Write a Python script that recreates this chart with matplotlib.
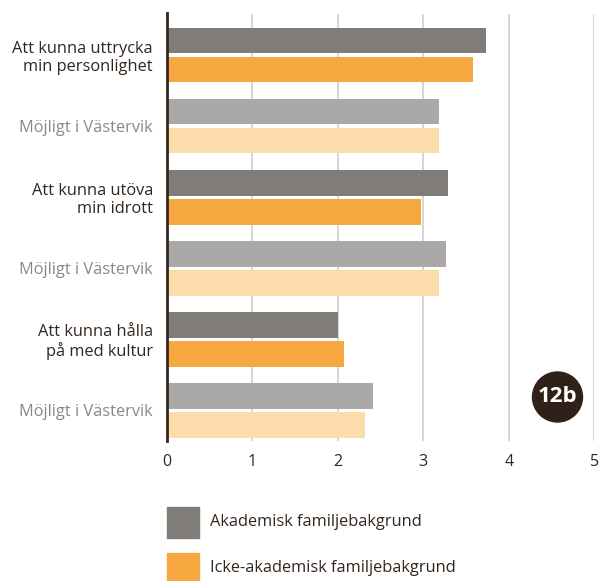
import matplotlib
matplotlib.use("Agg")
import matplotlib.pyplot as plt
from matplotlib.patches import Rectangle, Ellipse

plt.rcParams['font.family'] = ['Open Sans', 'DejaVu Sans']

categories = ["Att kunna uttrycka\nmin personlighet", "Möjligt i Västervik",
              "Att kunna utöva\nmin idrott", "Möjligt i Västervik",
              "Att kunna hålla\npå med kultur", "Möjligt i Västervik"]
akademisk = [3.73, 3.18, 3.29, 3.27, 2.0, 2.41]
icke_akademisk = [3.58, 3.18, 2.97, 3.18, 2.07, 2.32]
is_possible = [False, True, False, True, False, True]
xticks = [0, 1, 2, 3, 4, 5]
legend_labels = ["Akademisk familjebakgrund", "Icke-akademisk familjebakgrund"]
badge = "12b"

c_dark = "#807c78"
c_orange = "#f7a73f"
c_lgray = "#aaa9a7"
c_lorange = "#fddcab"
txt_dark = "#33261d"
txt_gray = "#8c8784"

W, H = 599, 581
fig = plt.figure(figsize=(W / 100, H / 100), dpi=100)
x0, x1 = 166.8, 594.3
ytop, ybot = 13, 441
ax = fig.add_axes([x0 / W, 1 - ybot / H, (x1 - x0) / W, (ybot - ytop) / H])

off = 0.204
h = 0.362
for i in range(len(categories)):
    c1 = c_lgray if is_possible[i] else c_dark
    c2 = c_lorange if is_possible[i] else c_orange
    ax.barh(i - off, akademisk[i], height=h, color=c1, zorder=3)
    ax.barh(i + off, icke_akademisk[i], height=h, color=c2, zorder=3)

ax.set_xlim(0, 5)
ax.set_ylim(5.43, -0.59)
for s in ["top", "right", "bottom"]:
    ax.spines[s].set_visible(False)
ax.spines["left"].set_color(txt_dark)
ax.spines["left"].set_linewidth(2)
ax.spines["left"].set_zorder(5)

ax.set_xticks(xticks)
ax.set_xticklabels([str(t) for t in xticks], fontsize=11.5, color=txt_dark)
ax.tick_params(axis="x", length=0, pad=9)
for t in xticks[1:]:
    ax.axvline(t, color="#d2d2d2", lw=1.3, zorder=1, ymin=0, ymax=0.995)

ax.set_yticks(range(len(categories)))
ax.set_yticklabels(categories, fontsize=11.8, linespacing=1.15)
for lbl, p in zip(ax.get_yticklabels(), is_possible):
    lbl.set_color(txt_gray if p else txt_dark)
ax.tick_params(axis="y", length=0, pad=10)

# badge
fig.patches.append(Ellipse((557.5 / W, 1 - 397 / H), 50 / W, 50 / H, transform=fig.transFigure,
                           color="#2f2117", zorder=10))
fig.text(557.5 / W, 1 - 397 / H, badge, ha="center", va="center", color="white",
         fontsize=16, fontweight="bold", zorder=11)

# legend
for k, (lab, col) in enumerate(zip(legend_labels, [c_dark, c_orange])):
    ytop_sq = 506.5 + k * 46
    fig.patches.append(Rectangle((166.7 / W, 1 - (ytop_sq + 31) / H), 32.3 / W, 31 / H,
                                 transform=fig.transFigure, color=col))
    fig.text(210 / W, 1 - (ytop_sq + 16) / H, lab, ha="left", va="center",
             fontsize=11.8, color=txt_dark)

fig.savefig("out.png", dpi=100)
